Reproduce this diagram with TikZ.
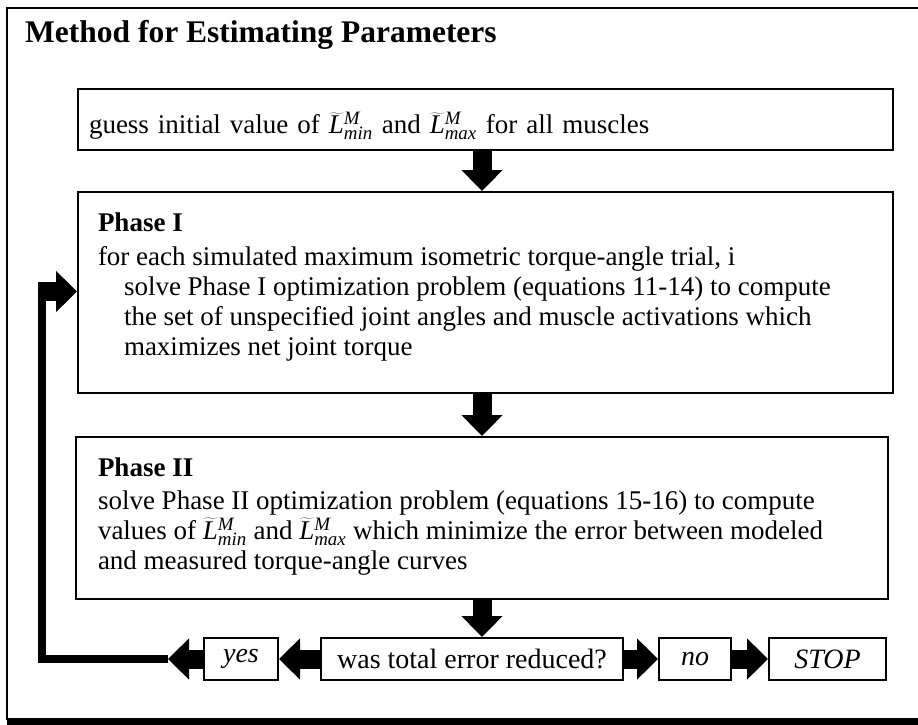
\documentclass[tikz,border=0pt]{standalone}
\usepackage{fontspec}
\setmainfont{Liberation Serif}
\usetikzlibrary{arrows.meta}
\newcommand{\Lmus}[1]{$\widetilde{\mathit{L}}^{\mathit{M}}_{\mathit{#1}}$}

\begin{document}
\begin{tikzpicture}[x=1pt,y=-1pt,
  box/.style={draw, line width=2pt, anchor=north west, inner sep=0pt},
  fat/.style={line width=19pt, -{Triangle[length=21pt,width=40pt]}},
  font=\fontsize{27}{30}\selectfont]
\useasboundingbox (0,0) rectangle (918,725);
\clip (0,0) rectangle (918,725);
% outer frame
\draw [line width=2.5pt] (7,8) rectangle (930,719);
\fill (7,719) rectangle (930,725);

\node (T) at (25,43) [anchor=base west, inner sep=0pt, font=\bfseries\fontsize{31.5}{36}\selectfont]{Method for Estimating Parameters};

\node (A) at (77,88) [box, minimum width=815pt, minimum height=61pt, inner xsep=11pt, text width=793pt, text height=28pt, text depth=0pt, align=left]{guess initial value of \Lmus{min} and \Lmus{max} for all muscles};

\node (B-1) at (77,191) [box, minimum width=815pt, minimum height=201pt, inner xsep=20pt, inner ysep=20.5pt]{\parbox[c][160pt][t]{775pt}{\textbf{Phase I}\\[4pt]
for each simulated maximum isometric torque-angle trial, i\\
\hspace*{26pt}solve Phase I optimization problem (equations 11-14) to compute\\
\hspace*{26pt}the set of unspecified joint angles and muscle activations which\\
\hspace*{26pt}maximizes net joint torque}};

\node (B-2) at (75,436) [box, minimum width=812pt, minimum height=162pt, inner xsep=22pt, inner ysep=20.5pt]{\parbox[c][121pt][t]{768pt}{\textbf{Phase II}\\[3pt]
solve Phase II optimization problem (equations 15-16) to compute\\
values of \Lmus{min} and \Lmus{max} which minimize the error between modeled\\
and measured torque-angle curves}};

\node (C) at (320,659) [box, anchor=west, minimum width=302pt, minimum height=42pt, font=\fontsize{28}{30}\selectfont]{was total error reduced?};
\node (C-1) at (203,659) [box, anchor=west, minimum width=74pt, minimum height=42pt, font=\fontsize{28}{30}\selectfont\itshape]{yes};
\node (C-2) at (658,659) [box, anchor=west, minimum width=72pt, minimum height=42pt, font=\fontsize{28}{30}\selectfont\itshape]{no};
\node (C-3) at (768,659) [box, anchor=west, minimum width=117pt, minimum height=42pt, font=\fontsize{28}{30}\selectfont\itshape]{STOP};

\coordinate (M) at (482,0);
\coordinate (E) at (168,659);
\coordinate (F) at (42,291.5);

\draw [fat] (A.south -| M) -- (B-1.north -| M);
\draw [fat] (B-1.south -| M) -- (B-2.north -| M);
\draw [fat] (B-2.south -| M) -- (C.north -| M);

\draw [fat] (C.west) -- (C-1.east);
\draw [fat] (C.east) -- (C-2.west);
\draw [fat] (C-2.east) -- (C-3.west);

% back to Phase I
\draw [fat] (C-1.west) -- (E);
\draw [line width=8pt] (E) -| (F);
\draw [fat] ([xshift=-4pt]F) -- (F -| B-1.west);

\end{tikzpicture}
\end{document}
